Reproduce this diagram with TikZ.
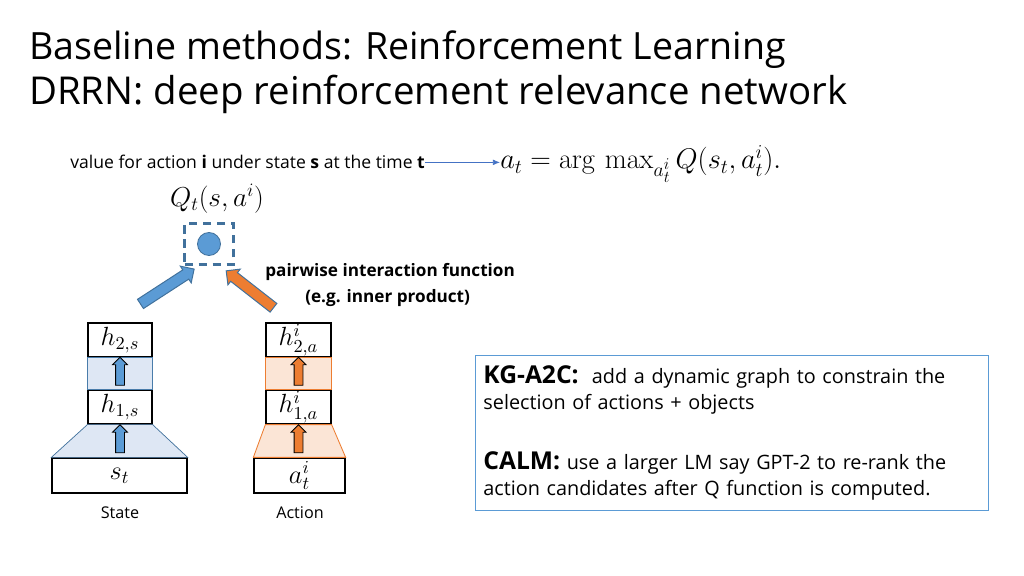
\RequirePackage{fix-cm}
\documentclass[tikz,border=0pt]{standalone}
\usepackage[no-math]{fontspec}
\usepackage{graphicx}
\setmainfont{Open Sans}
\usetikzlibrary{shapes.arrows,arrows.meta}

\newlength\px \setlength\px{0.025cm}
\newcommand\mathlbl[2]{\scalebox{#1}{$#2$}}

\definecolor{qblue}{HTML}{5B9BD5}
\definecolor{qbluedark}{HTML}{41719C}
\definecolor{bandblue}{HTML}{DEE7F4}
\definecolor{aorange}{HTML}{ED7D31}
\definecolor{bandorange}{HTML}{FBE5D6}
\definecolor{lineblue}{HTML}{4472C4}

\tikzset{
  layer/.style={draw, line width=0.9pt, fill=white, minimum width=64\px, minimum height=34\px, inner sep=0pt,
    font=\fontsize{14.4}{17}\selectfont},
  inbox/.style={layer, minimum width=135\px, minimum height=35\px},
  upblock/.style={single arrow, draw=black, line width=0.6pt, inner xsep=0pt, inner ysep=4\px,
    single arrow head extend=3\px, single arrow tip angle=90, minimum height=28\px, rotate=90},
  bigblock/.style={single arrow, draw=qbluedark, line width=0.7pt, inner xsep=0pt, inner ysep=5\px,
    single arrow head extend=4.5\px, single arrow tip angle=90, minimum height=64\px},
  lbl/.style={font=\fontsize{11.5}{14}\selectfont}
}

\begin{document}
\begin{tikzpicture}[x=1\px, y=-1\px]
\useasboundingbox (0,0) rectangle (1024,576);

% title
\node[anchor=base west, inner sep=0pt] (title1) at (29,60)
  {\fontsize{26.7}{32}\selectfont Baseline methods: Reinforcement Learning};
\node[anchor=base west, inner sep=0pt] (title2) at (29,105)
  {\fontsize{27.3}{32}\selectfont DRRN: deep reinforcement relevance network};

% value line and argmax
\node[anchor=base west, inner sep=0pt, font=\fontsize{12.5}{15}\selectfont] (valtxt) at (70,169)
  {value for action \textbf{i} under state \textbf{s} at the time \textbf{t}};
\node[anchor=base west, inner sep=0pt, font=\fontsize{20.74}{24}\selectfont] (argmax) at (500,169)
  {\mathlbl{0.975}{a_t = \arg\,\max_{a_t^i} Q(s_t, a_t^i).}};
\draw[lineblue, line width=0.5pt, -{Latex[length=5pt,width=4pt]}] (valtxt.east) -- (valtxt.east -| argmax.west);

% Q value
\node[font=\fontsize{17.28}{20}\selectfont] (qval) at (217,199) {\mathlbl{1.125}{Q_t(s,a^i)}};
\node[draw=qbluedark, dashed, dash pattern=on 6pt off 4pt, line width=1.6pt, minimum width=49\px, minimum height=41\px] (qbox) at (209,244) {};
\node[circle, fill=qblue, draw=qbluedark, line width=0.6pt, minimum size=23\px, inner sep=0pt] (qdot) at (209,244) {};

% state tower
\node[layer] (h2s) at (120,340) {\mathlbl{1.3}{h_{2,s}}};
\node[layer] (h1s) at (120,407) {\mathlbl{1.3}{h_{1,s}}};
\node[inbox] (st) at (119.5,475.5) {\mathlbl{1.3}{s_t}};
\filldraw[fill=bandblue, draw=qblue!80!black, line width=0.5pt] (h2s.south west) rectangle (h1s.north east);
\filldraw[fill=bandblue, draw=qbluedark, line width=0.5pt] (h1s.south west) -- (h1s.south east) -- (st.north east) -- (st.north west) -- cycle;
\node[upblock, fill=qblue] (as1) at (120,373.5) {};
\node[upblock, fill=qblue] (as2) at (120,441) {};
\node[lbl] (statelbl) at (120,513) {State};

% action tower
\node[layer, minimum width=65\px] (h2a) at (298.5,340) {\mathlbl{1.3}{h^i_{2,a}}};
\node[layer, minimum width=65\px] (h1a) at (298.5,407) {\mathlbl{1.3}{h^i_{1,a}}};
\node[inbox, minimum width=91\px] (at) at (299.5,475.5) {\mathlbl{1.3}{a^i_t}};
\filldraw[fill=bandorange, draw=aorange, line width=0.6pt] (h2a.south west) rectangle (h1a.north east);
\filldraw[fill=bandorange, draw=aorange, line width=0.6pt] (h1a.south west) -- (h1a.south east) -- (at.north east) -- (at.north west) -- cycle;
\node[upblock, fill=aorange] (aa1) at (298.5,373.5) {};
\node[upblock, fill=aorange] (aa2) at (298.5,441) {};
\node[lbl] (actionlbl) at (300,513) {Action};

% pairwise arrows
\node[bigblock, fill=qblue, rotate=33] (sarrow) at (165,288) {};
\node[bigblock, fill=aorange, minimum height=60\px, rotate=142] (aarrow) at (252,291) {};
\node[font=\fontsize{12.2}{14}\selectfont\bfseries, anchor=base west, inner sep=0pt] (pair1) at (265,277) {pairwise interaction function};
\node[font=\fontsize{12.2}{14}\selectfont\bfseries, anchor=base west, inner sep=0pt] (pair2) at (305,303) {(e.g. inner product)};

% other methods
\node[draw=qblue, line width=0.6pt, anchor=north west, minimum width=513\px, minimum height=155\px,
  align=left, text width=497\px, inner sep=8\px, font=\fontsize{14.1}{18.5}\selectfont] (notes) at (475,355)
  {{\fontsize{17.5}{18.5}\selectfont\bfseries KG-A2C:}\ \ add a dynamic graph to constrain the\\
   selection of actions + objects\\[34\px]
   {\fontsize{17.5}{18.5}\selectfont\bfseries CALM:} use a larger LM say GPT-2 to re-rank the\\
   action candidates after Q function is computed.};
\end{tikzpicture}
\end{document}
